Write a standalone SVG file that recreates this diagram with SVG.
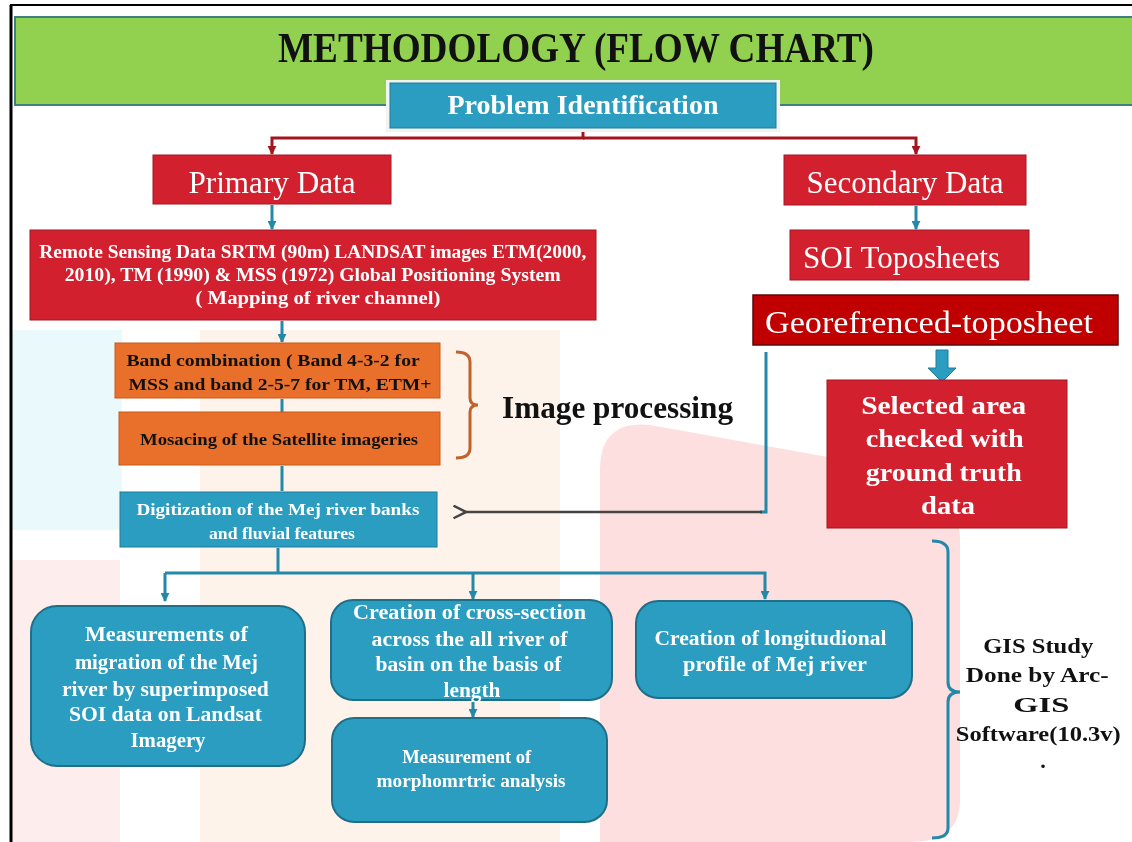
<svg xmlns="http://www.w3.org/2000/svg" width="1132" height="842" viewBox="0 0 1132 842">
<defs>
<style>
.t{font-family:"Liberation Serif","Times New Roman",serif;}
.b{font-weight:bold;}
.w{fill:#ffffff;}
.k{fill:#111111;}
.red{fill:#D3202F;stroke:#A01822;stroke-width:1;}
.dred{fill:#C00000;stroke:#5a0a0a;stroke-width:1.5;}
.org{fill:#E8702A;stroke:#C75A1A;stroke-width:1;}
.teal{fill:#2A9DC0;stroke:#1E7C98;stroke-width:1;}
.rteal{fill:#2A9DC0;stroke:#1F6F88;stroke-width:2;}
.rc{stroke:#A3161F;stroke-width:3;fill:none;}
.tc{stroke:#2488A8;stroke-width:3;fill:none;}
</style>
<marker id="ar" viewBox="0 0 10 10" refX="9" refY="5" markerWidth="3" markerHeight="3" orient="auto"><path d="M0,0 L10,5 L0,10 z" fill="#A3161F"/></marker>
<marker id="at" viewBox="0 0 10 10" refX="9" refY="5" markerWidth="3" markerHeight="3" orient="auto"><path d="M0,0 L10,5 L0,10 z" fill="#2488A8"/></marker>
<marker id="ag" viewBox="0 0 12 12" refX="1" refY="6" markerWidth="6" markerHeight="6" orient="auto-start-reverse"><path d="M11,1 L1,6 L11,11" fill="none" stroke="#444" stroke-width="2"/></marker>
</defs>
<rect width="1132" height="842" fill="#ffffff"/>
<g id="watermark" opacity="0.2">
<rect x="12" y="330" width="110" height="200" fill="#8fe0ee"/>
<rect x="200" y="330" width="360" height="512" fill="#f6a35a" opacity="0.6"/>
<path d="M600,470 Q600,420 650,425 L900,470 Q960,490 960,540 L960,800 Q960,842 910,842 L600,842 Z" fill="#f0605a"/>
<path d="M12,560 L120,560 L120,842 L12,842 Z" fill="#f07070" opacity="0.6"/>
</g>
<g id="frame">
<line x1="10" y1="5" x2="1132" y2="5" stroke="#000" stroke-width="2"/>
<line x1="11" y1="5" x2="11" y2="842" stroke="#000" stroke-width="3"/>
</g>
<g id="header">
<rect x="15" y="17" width="1120" height="88" fill="#92D050" stroke="#3f7f7f" stroke-width="2"/>
<text class="t b k" x="576" y="62" font-size="42" text-anchor="middle" textLength="596" lengthAdjust="spacingAndGlyphs">METHODOLOGY (FLOW CHART)</text>
</g>
<g id="connectors">
<polyline class="rc" points="583,128 583,138 272,138 272,154" marker-end="url(#ar)"/>
<polyline class="rc" points="583,138 916,138 916,154" marker-end="url(#ar)"/>
<line class="tc" x1="272" y1="205" x2="272" y2="229" marker-end="url(#at)"/>
<line class="tc" x1="916" y1="206" x2="916" y2="229" marker-end="url(#at)"/>
<line class="tc" x1="282" y1="321" x2="282" y2="342" marker-end="url(#at)"/>
<line class="tc" x1="282" y1="399" x2="282" y2="412"/>
<line class="tc" x1="282" y1="466" x2="282" y2="491"/>
<path d="M936,350 L948,350 L948,368 L956,368 L942,382 L928,368 L936,368 Z" fill="#2A9DC0" stroke="#1E7C98" stroke-width="1"/>
<polyline points="766,352 766,512 760,512" fill="none" stroke="#2488A8" stroke-width="3"/>
<line x1="762" y1="512" x2="466" y2="512" stroke="#444" stroke-width="2.5" marker-end="url(#ag)"/>
<polyline class="tc" points="278,548 278,573"/>
<polyline class="tc" points="165,573 765,573 765,599" marker-end="url(#at)"/>
<line class="tc" x1="165" y1="573" x2="165" y2="601" marker-end="url(#at)"/>
<line class="tc" x1="473" y1="573" x2="473" y2="599" marker-end="url(#at)"/>
<line class="tc" x1="473" y1="702" x2="473" y2="717" marker-end="url(#at)"/>
<path d="M456,352 Q470,352 470,362 L470,398 Q470,405 478,405 Q470,405 470,412 L470,448 Q470,458 456,458" fill="none" stroke="#C0622A" stroke-width="3"/>
<path d="M932,541 Q948,541 948,552 L948,682 Q948,692 960,692 Q948,692 948,702 L948,828 Q948,838 932,838" fill="none" stroke="#2488A8" stroke-width="3"/>
</g>
<g id="problem">
<rect x="386" y="80" width="394" height="52" fill="#f2f2f2"/>
<rect x="390" y="83" width="386" height="45" class="teal"/>
<text class="t b w" x="583" y="114" font-size="28" text-anchor="middle" textLength="271" lengthAdjust="spacingAndGlyphs">Problem Identification</text>
</g>
<g id="primary">
<rect x="153" y="155" width="238" height="49" class="red"/>
<text class="t w" x="272" y="193" font-size="31" text-anchor="middle" textLength="167" lengthAdjust="spacingAndGlyphs">Primary Data</text>
</g>
<g id="secondary">
<rect x="784" y="155" width="242" height="50" class="red"/>
<text class="t w" x="905" y="193" font-size="31" text-anchor="middle" textLength="197" lengthAdjust="spacingAndGlyphs">Secondary Data</text>
</g>
<g id="remote">
<rect x="30" y="230" width="566" height="90" class="red"/>
<text class="t b w" font-size="18" text-anchor="middle">
<tspan x="315" y="258" textLength="547" lengthAdjust="spacingAndGlyphs">Remote Sensing Data SRTM (90m) LANDSAT images ETM(2000,</tspan>
<tspan x="315" y="281" textLength="496" lengthAdjust="spacingAndGlyphs">2010), TM (1990) &amp; MSS (1972) Global Positioning  System</tspan>
<tspan x="318" y="304" textLength="245" lengthAdjust="spacingAndGlyphs">( Mapping of  river channel)</tspan>
</text>
</g>
<g id="soi">
<rect x="790" y="230" width="239" height="50" class="red"/>
<text class="t w" x="803" y="268" font-size="31" textLength="197" lengthAdjust="spacingAndGlyphs">SOI Toposheets</text>
</g>
<g id="georef">
<rect x="753" y="295" width="365" height="50" class="dred"/>
<text class="t w" x="765" y="333" font-size="31" textLength="328" lengthAdjust="spacingAndGlyphs">Georefrenced-toposheet</text>
</g>
<g id="selected">
<rect x="827" y="380" width="240" height="148" class="red"/>
<text class="t b w" font-size="26" text-anchor="middle">
<tspan x="947" y="414" textLength="165" lengthAdjust="spacingAndGlyphs">Selected  area</tspan>
<tspan x="948" y="447" textLength="158" lengthAdjust="spacingAndGlyphs">checked with</tspan>
<tspan x="947" y="481" textLength="156" lengthAdjust="spacingAndGlyphs">ground truth</tspan>
<tspan x="948" y="514" textLength="54" lengthAdjust="spacingAndGlyphs">data</tspan>
</text>
</g>
<g id="band">
<rect x="115" y="343" width="325" height="55" class="org"/>
<text class="t b k" font-size="17" text-anchor="middle">
<tspan x="275" y="366" textLength="293" lengthAdjust="spacingAndGlyphs">Band combination ( Band 4-3-2 for</tspan>
<tspan x="280" y="390" textLength="303" lengthAdjust="spacingAndGlyphs">MSS and band 2-5-7 for TM, ETM+</tspan>
</text>
</g>
<g id="mosacing">
<rect x="119" y="412" width="321" height="53" class="org"/>
<text class="t b k" x="279" y="445" font-size="17" text-anchor="middle" textLength="278" lengthAdjust="spacingAndGlyphs">Mosacing of the Satellite imageries</text>
</g>
<g id="imgproc">
<text class="t b k" x="502" y="418" font-size="31" textLength="231" lengthAdjust="spacingAndGlyphs">Image processing</text>
</g>
<g id="digitization">
<rect x="120" y="492" width="317" height="55" class="teal"/>
<text class="t b w" font-size="17" text-anchor="middle">
<tspan x="280" y="515" textLength="283" lengthAdjust="spacingAndGlyphs">Digitization of the Mej  river banks</tspan>
<tspan x="282" y="539" textLength="146" lengthAdjust="spacingAndGlyphs">and fluvial features</tspan>
</text>
</g>
<g id="measurements">
<rect x="31" y="606" width="274" height="160" rx="26" class="rteal"/>
<text class="t b w" font-size="21" text-anchor="middle">
<tspan x="169" y="641" textLength="163" lengthAdjust="spacingAndGlyphs">Measurements of</tspan>
<tspan x="169" y="669" textLength="183" lengthAdjust="spacingAndGlyphs">migration of the Mej</tspan>
<tspan x="168" y="696" textLength="207" lengthAdjust="spacingAndGlyphs">river by superimposed</tspan>
<tspan x="168" y="721" textLength="193" lengthAdjust="spacingAndGlyphs">SOI data on Landsat</tspan>
<tspan x="168" y="747" textLength="75" lengthAdjust="spacingAndGlyphs">Imagery</tspan>
</text>
</g>
<g id="crosssection">
<rect x="331" y="600" width="281" height="100" rx="22" class="rteal"/>
<text class="t b w" font-size="20" text-anchor="middle">
<tspan x="472" y="619" textLength="233" lengthAdjust="spacingAndGlyphs">Creation of  cross-section</tspan>
<tspan x="472" y="646" textLength="196" lengthAdjust="spacingAndGlyphs">across  the all river of</tspan>
<tspan x="471" y="671" textLength="186" lengthAdjust="spacingAndGlyphs">basin on the basis of</tspan>
<tspan x="472" y="697" textLength="57" lengthAdjust="spacingAndGlyphs">length</tspan>
</text>
</g>
<g id="morphometric">
<rect x="332" y="718" width="275" height="104" rx="22" class="rteal"/>
<text class="t b w" font-size="18" text-anchor="middle">
<tspan x="469" y="763" textLength="129" lengthAdjust="spacingAndGlyphs">Measurement of</tspan>
<tspan x="471" y="787" textLength="189" lengthAdjust="spacingAndGlyphs">morphomrtric analysis</tspan>
</text>
</g>
<g id="longitudinal">
<rect x="636" y="601" width="276" height="97" rx="22" class="rteal"/>
<text class="t b w" font-size="20" text-anchor="middle">
<tspan x="773" y="645" textLength="232" lengthAdjust="spacingAndGlyphs">Creation  of longitudional</tspan>
<tspan x="775" y="671" textLength="184" lengthAdjust="spacingAndGlyphs">profile of  Mej river</tspan>
</text>
</g>
<g id="gisstudy">
<text class="t b k" font-size="22" text-anchor="middle">
<tspan x="1041" y="653" textLength="110" lengthAdjust="spacingAndGlyphs">GIS Study</tspan>
<tspan x="1040" y="682" textLength="143" lengthAdjust="spacingAndGlyphs">Done by Arc-</tspan>
<tspan x="1044" y="712" textLength="56" lengthAdjust="spacingAndGlyphs">GIS</tspan>
<tspan x="1041" y="741" textLength="165" lengthAdjust="spacingAndGlyphs">Software(10.3v)</tspan>
<tspan x="1043" y="768">.</tspan>
</text>
</g>
</svg>
